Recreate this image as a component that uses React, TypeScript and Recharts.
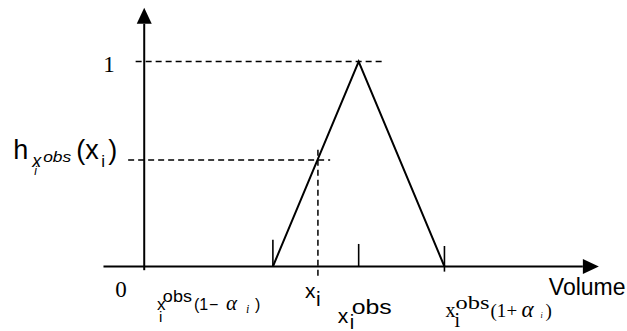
import React from 'react';
import { LineChart, Line, XAxis, YAxis, ReferenceLine, ReferenceDot } from 'recharts';

// Triangular membership function around the observed volume
const triX = [0.6, 1.0, 1.4];
const triY = [0, 1, 0];
const xObs = 1.0;
const alpha = 0.4;
const xi = 0.81;
const hXi = 0.52;

// short vertical marks on the volume axis: [x, yFrom, yTo]
const axisMarks: [number, number, number][] = [
  [0.6, 0, 0.13],
  [1.0, 0, 0.11],
  [1.4, -0.025, 0.1],
];

const X_DOMAIN: [number, number] = [-0.5, 2.2];
const Y_DOMAIN: [number, number] = [-0.3, 1.3];

const data = triX.map((x, i) => ({ x, y: triY[i] }));

const SANS = '"Liberation Sans", Arial, sans-serif';
const SERIF = '"Liberation Serif", "Times New Roman", serif';

function ArrowLine(props: any) {
  const { x1, y1, x2, y2 } = props;
  const ang = Math.atan2(y2 - y1, x2 - x1);
  const len = 16;
  const half = 7.5;
  const bx = x2 - len * Math.cos(ang);
  const by = y2 - len * Math.sin(ang);
  const px = -Math.sin(ang) * half;
  const py = Math.cos(ang) * half;
  return (
    <g>
      <line x1={x1} y1={y1} x2={bx} y2={by} stroke="#000" strokeWidth={2} />
      <polygon points={`${x2},${y2} ${bx + px},${by + py} ${bx - px},${by - py}`} fill="#000" />
    </g>
  );
}

type Piece = { t: string; dx: number; dy: number; size: number; font?: string; italic?: boolean; w?: number };

// one <text> per label; sub/superscripts are tspans placed relative to the anchor
const makeLabel = (pieces: Piece[]) => (props: any) => {
  const { cx, cy } = props;
  return (
    <text fill="#000" fontFamily={SANS}>
      {pieces.map((p, i) => (
        <tspan
          key={i}
          x={cx + p.dx}
          y={cy + p.dy}
          fontSize={p.size}
          fontFamily={p.font ?? SANS}
          fontStyle={p.italic ? 'italic' : 'normal'}
          textLength={p.w}
          lengthAdjust={p.w ? 'spacingAndGlyphs' : undefined}
        >
          {p.t}
        </tspan>
      ))}
    </text>
  );
};

const oneLabel = makeLabel([{ t: '1', dx: -41, dy: 10, size: 23, font: SERIF }]);
const zeroLabel = makeLabel([{ t: '0', dx: -29, dy: 30, size: 23, font: SERIF }]);

const hLabel = makeLabel([
  { t: 'h', dx: -131, dy: -1, size: 27 },
  { t: 'x', dx: -112, dy: 7, size: 18, italic: true },
  { t: 'obs', dx: -101, dy: 2, size: 14, italic: true, w: 28 },
  { t: 'i', dx: -110, dy: 15, size: 12, italic: true },
  { t: '(x', dx: -68, dy: -1, size: 27 },
  { t: 'i', dx: -43, dy: 7, size: 17 },
  { t: ')', dx: -36, dy: -1, size: 27 },
]);

const lowLabel = makeLabel([
  { t: 'x', dx: -116, dy: 43, size: 17 },
  { t: 'obs', dx: -110, dy: 35, size: 16, w: 29 },
  { t: 'i', dx: -114, dy: 55, size: 15 },
  { t: '(1', dx: -79, dy: 43, size: 16 },
  { t: '\u2212', dx: -64, dy: 43, size: 16 },
  { t: '\u03b1', dx: -47, dy: 43, size: 21, font: SERIF, italic: true },
  { t: 'i', dx: -27, dy: 46, size: 12, font: SERIF, italic: true },
  { t: ')', dx: -18, dy: 43, size: 16 },
]);

const xiLabel = makeLabel([
  { t: 'x', dx: -13, dy: 31, size: 21 },
  { t: 'i', dx: -2, dy: 39, size: 21 },
]);

const obsLabel = makeLabel([
  { t: 'x', dx: -21, dy: 56, size: 21 },
  { t: 'obs', dx: -7, dy: 47, size: 21, w: 40 },
  { t: 'i', dx: -9, dy: 62, size: 20 },
]);

const highLabel = makeLabel([
  { t: 'x', dx: 1, dy: 50, size: 20, font: SERIF },
  { t: 'obs', dx: 11, dy: 42, size: 19, font: SERIF, w: 34 },
  { t: 'i', dx: 10, dy: 60, size: 20, font: SERIF },
  { t: '(1', dx: 46, dy: 50, size: 19, font: SERIF },
  { t: '+', dx: 62, dy: 50, size: 19, font: SERIF },
  { t: '\u03b1', dx: 77, dy: 50, size: 23, font: SERIF, italic: true },
  { t: 'i', dx: 96, dy: 51, size: 8, font: SERIF, italic: true },
  { t: ')', dx: 101, dy: 50, size: 19, font: SERIF },
]);

const volumeLabel = makeLabel([{ t: 'Volume', dx: -50, dy: 28, size: 23 }]);

export default function App() {
  const dash = '6 4';
  return (
    <div style={{ position: 'absolute', left: 0, top: 0, width: 627, height: 331, background: '#fff' }}>
      <LineChart width={627} height={331} data={data} margin={{ top: 0, right: 11, bottom: 3, left: 37 }}>
        <XAxis dataKey="x" type="number" domain={X_DOMAIN} hide allowDataOverflow />
        <YAxis type="number" domain={Y_DOMAIN} hide allowDataOverflow />

        {/* axes with arrow heads */}
        <ReferenceLine segment={[{ x: -0.19, y: 0 }, { x: 2.12, y: 0 }]} shape={ArrowLine} ifOverflow="visible" />
        <ReferenceLine segment={[{ x: 0, y: -0.018 }, { x: 0, y: 1.262 }]} shape={ArrowLine} ifOverflow="visible" />

        {/* guide lines */}
        <ReferenceLine
          segment={[{ x: -0.04, y: 1 }, { x: 1.11, y: 1 }]}
          stroke="#000"
          strokeWidth={1.5}
          strokeDasharray={dash}
          ifOverflow="visible"
        />
        <ReferenceLine
          segment={[{ x: -0.075, y: hXi }, { x: 0.867, y: hXi }]}
          stroke="#000"
          strokeWidth={1.5}
          strokeDasharray={dash}
          ifOverflow="visible"
        />
        <ReferenceLine
          segment={[{ x: xi, y: hXi + 0.05 }, { x: xi, y: -0.058 }]}
          stroke="#000"
          strokeWidth={1.5}
          strokeDasharray={dash}
          ifOverflow="visible"
        />

        {axisMarks.map(([x, y0, y1], i) => (
          <ReferenceLine
            key={i}
            segment={[{ x, y: y0 }, { x, y: y1 }]}
            stroke="#000"
            strokeWidth={1.6}
            ifOverflow="visible"
          />
        ))}

        <Line
          type="linear"
          dataKey="y"
          stroke="#000"
          strokeWidth={2}
          dot={false}
          activeDot={false}
          isAnimationActive={false}
        />

        <ReferenceDot x={0} y={1} r={1} shape={oneLabel} ifOverflow="visible" />
        <ReferenceDot x={0} y={0} r={1} shape={zeroLabel} ifOverflow="visible" />
        <ReferenceDot x={0} y={hXi} r={1} shape={hLabel} ifOverflow="visible" />
        <ReferenceDot x={xObs * (1 - alpha)} y={0} r={1} shape={lowLabel} ifOverflow="visible" />
        <ReferenceDot x={xi} y={0} r={1} shape={xiLabel} ifOverflow="visible" />
        <ReferenceDot x={xObs} y={0} r={1} shape={obsLabel} ifOverflow="visible" />
        <ReferenceDot x={xObs * (1 + alpha)} y={0} r={1} shape={highLabel} ifOverflow="visible" />
        <ReferenceDot x={2.12} y={0} r={1} shape={volumeLabel} ifOverflow="visible" />
      </LineChart>
    </div>
  );
}
